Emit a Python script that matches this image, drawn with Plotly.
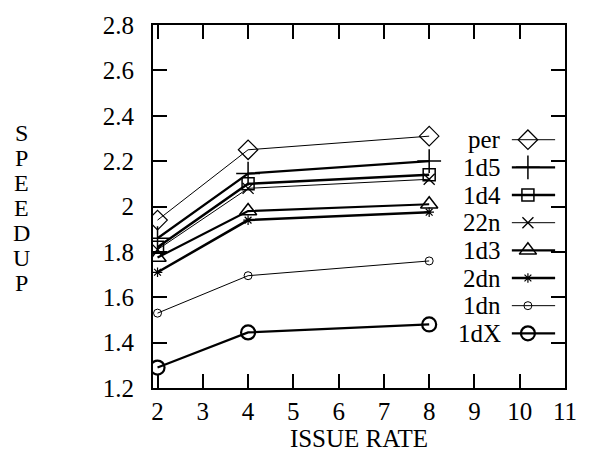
import plotly.graph_objects as go

# ---------------- data ----------------
issue_rate = [2, 4, 8]
series_names = ["per", "1d5", "1d4", "22n", "1d3", "2dn", "1dn", "1dX"]
per = [1.94, 2.25, 2.31]
d15 = [1.86, 2.145, 2.20]
d14 = [1.82, 2.10, 2.14]
n22 = [1.81, 2.08, 2.12]
d13 = [1.775, 1.98, 2.01]
dn2 = [1.71, 1.94, 1.975]
dn1 = [1.53, 1.695, 1.76]
dX1 = [1.29, 1.445, 1.48]
series_values = [per, d15, d14, n22, d13, dn2, dn1, dX1]

x_ticks = [2, 3, 4, 5, 6, 7, 8, 9, 10, 11]
y_ticks = [1.2, 1.4, 1.6, 1.8, 2.0, 2.2, 2.4, 2.6, 2.8]
y_tick_labels = ["1.2", "1.4", "1.6", "1.8", "2", "2.2", "2.4", "2.6", "2.8"]
y_title_letters = list("SPEEDUP")

# ---------------- styles ----------------
FONT = "Liberation Serif"
FS = 25
styles = {
    "per": dict(symbol="diamond-open", size=15, lw=1.0, mlw=1.2),
    "1d5": dict(symbol="cross-thin-open", size=17, lw=2.2, mlw=1.5),
    "1d4": dict(symbol="square-open", size=12, lw=2.5, mlw=1.5),
    "22n": dict(symbol="x-thin-open", size=11, lw=1.0, mlw=1.3),
    "1d3": dict(symbol="triangle-up-open", size=15, lw=2.2, mlw=1.5),
    "2dn": dict(symbol="asterisk-open", size=8, lw=2.5, mlw=1.2),
    "1dn": dict(symbol="circle-open", size=8, lw=1.0, mlw=1.0),
    "1dX": dict(symbol="circle-open", size=14, lw=2.2, mlw=2.2),
}

fig = go.Figure()
for name, vals in zip(series_names, series_values):
    st = styles[name]
    fig.add_trace(go.Scatter(
        x=issue_rate, y=vals, mode="lines+markers", name=name,
        line=dict(color="black", width=st["lw"]),
        marker=dict(symbol=st["symbol"], size=st["size"], color="black",
                    line=dict(color="black", width=st["mlw"])),
        showlegend=False,
    ))

# custom gnuplot-style key (text left, sample right) on an overlay axis
key_top = 0.684
key_step = 0.0762
key_x0, key_x1, key_xm, key_text_x = 0.871, 0.976, 0.91, 0.8495
for i, name in enumerate(series_names):
    st = styles[name]
    ky = key_top - i * key_step
    fig.add_trace(go.Scatter(
        x=[key_x0, key_x1], y=[ky, ky], mode="lines", xaxis="x2", yaxis="y2",
        line=dict(color="black", width=st["lw"]), showlegend=False, hoverinfo="skip"))
    fig.add_trace(go.Scatter(
        x=[key_xm], y=[ky], mode="markers", xaxis="x2", yaxis="y2",
        marker=dict(symbol=st["symbol"], size=st["size"], color="black",
                    line=dict(color="black", width=st["mlw"])),
        showlegend=False, hoverinfo="skip"))
    fig.add_annotation(x=key_text_x, y=ky, xref="x2", yref="y2", text=name,
                       showarrow=False, xanchor="right", yanchor="middle",
                       font=dict(family=FONT, size=FS, color="black"))

# stacked y-axis title (one letter per row, as in the original)
letter_y0 = 0.703
letter_step = 0.069
for i, ch in enumerate(y_title_letters):
    fig.add_annotation(x=-0.32, y=letter_y0 - i * letter_step, xref="paper", yref="paper",
                       text=ch, showarrow=False, xanchor="center", yanchor="middle",
                       height=24, valign="middle",
                       font=dict(family=FONT, size=24, color="black"))

axis_common = dict(
    showline=True, linecolor="black", linewidth=2, mirror="ticks",
    ticks="inside", ticklen=14, tickwidth=1.5, tickcolor="black",
    showgrid=False, zeroline=False,
    tickfont=dict(family=FONT, size=FS, color="black"),
)

fig.update_layout(
    width=589, height=459,
    margin=dict(l=153, r=24, t=14, b=71),
    paper_bgcolor="white", plot_bgcolor="white",
    showlegend=False,
    xaxis=dict(range=[1.9, 11], tickvals=x_ticks, **axis_common,
               title=dict(text="ISSUE RATE", font=dict(family=FONT, size=FS, color="black"),
                          standoff=2)),
    yaxis=dict(range=[1.2, 2.8], tickvals=y_ticks, ticktext=y_tick_labels,
               ticklabelstandoff=12, **axis_common),
    xaxis2=dict(range=[0, 1], overlaying="x", visible=False, fixedrange=True),
    yaxis2=dict(range=[0, 1], overlaying="y", visible=False, fixedrange=True),
)

fig.write_html("out.html", config={"displayModeBar": False},
               post_script="document.body.style.margin='0';")
